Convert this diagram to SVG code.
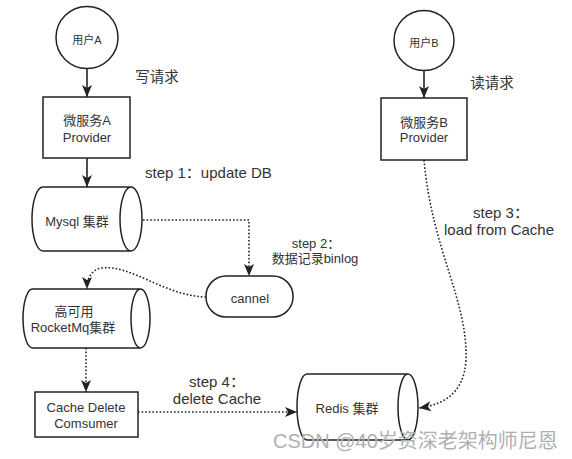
<svg xmlns="http://www.w3.org/2000/svg" width="572" height="459" viewBox="0 0 572 459">
<style>
.s{fill:#fff;stroke:#222;stroke-width:1.5}
.c{fill:none;stroke:#222;stroke-width:1.6}
.d{fill:none;stroke:#222;stroke-width:1.6;stroke-dasharray:1.6 2}
text{font-family:"Liberation Sans","Noto Sans CJK SC",sans-serif;fill:#333;font-size:13px;text-anchor:middle}
.l{font-size:15px}
.r{font-size:14.5px}
.sm{font-size:11px}
.wm{font-size:20px;fill:#b0b0b0;text-anchor:start}
</style>
<defs>
<marker id="a" markerUnits="userSpaceOnUse" markerWidth="12" markerHeight="10" refX="12" refY="5" orient="auto" overflow="visible">
<path d="M0,0 L12,5 L0,10 L3,5 Z" fill="#222"/>
</marker>
</defs>
<rect width="572" height="459" fill="#fff"/>
<g id="connectors">
<path class="c" d="M87 68.5 V97" marker-end="url(#a)"/>
<path class="c" d="M424 70.5 V98" marker-end="url(#a)"/>
<path class="c" d="M87 158 V187" marker-end="url(#a)"/>
<path class="d" d="M143 220 H249 V276" marker-end="url(#a)"/>
<path class="d" d="M206 297 C165 296 130 264 102 268 C92 269 87 278 87 289" marker-end="url(#a)"/>
<path class="d" d="M86 348 V392" marker-end="url(#a)"/>
<path class="d" d="M138 412 H297" marker-end="url(#a)"/>
<path class="d" d="M424 160 C432 250 468 300 466 360 C464 396 440 405 419 408" marker-end="url(#a)"/>
</g>
<g id="userA">
<circle class="s" cx="87" cy="37.5" r="31"/>
<text class="sm" x="87" y="44">用户A</text>
</g>
<g id="userB">
<circle class="s" cx="424" cy="40.5" r="30"/>
<text class="sm" x="424" y="47">用户B</text>
</g>
<g id="serviceA">
<rect class="s" x="43" y="97" width="87" height="61"/>
<text x="87" y="125">微服务A</text>
<text x="87" y="141.5">Provider</text>
</g>
<g id="serviceB">
<rect class="s" x="381" y="98" width="86" height="62"/>
<text x="424" y="126.5">微服务B</text>
<text x="424" y="141.5">Provider</text>
</g>
<g id="mysql">
<path class="s" d="M131 187 H43 A11 32 0 0 0 43 251 H131 A11 32 0 0 0 131 187 Z M131 187 A11 32 0 0 0 131 251"/>
<text x="77" y="225.5">Mysql 集群</text>
</g>
<g id="cannel">
<rect class="s" x="206" y="276" width="87" height="41" rx="20" ry="20"/>
<text x="250" y="302.5">cannel</text>
</g>
<g id="rocketmq">
<path class="s" d="M140.5 289 H32.5 A9.5 29.5 0 0 0 32.5 348 H140.5 A9.5 29.5 0 0 0 140.5 289 Z M140.5 289 A9.5 29.5 0 0 0 140.5 348"/>
<text x="74" y="315.5">高可用</text>
<text x="73" y="332">RocketMq集群</text>
</g>
<g id="consumer">
<rect class="s" x="35" y="392" width="103" height="45"/>
<text x="86" y="411.5">Cache Delete</text>
<text x="86" y="427.5">Comsumer</text>
</g>
<g id="redis">
<path class="s" d="M408 374 H307 A10 33 0 0 0 307 440 H408 A10 33 0 0 0 408 374 Z M408 374 A10 33 0 0 0 408 440"/>
<text x="347" y="412.5">Redis 集群</text>
</g>
<g id="labels">
<text class="r" x="157" y="82">写请求</text>
<text class="r" x="492" y="88">读请求</text>
<text class="l" x="145" y="178" style="text-anchor:start">step 1：update DB</text>
<text x="316" y="247.5">step 2：</text>
<text x="315" y="262.5">数据记录binlog</text>
<text class="l" x="501" y="218">step 3：</text>
<text class="l" x="499" y="235">load from Cache</text>
<text class="l" x="217" y="387">step 4：</text>
<text class="l" x="217" y="404">delete Cache</text>
<text class="wm" x="273" y="448">CSDN @40岁资深老架构师尼恩</text>
</g>
</svg>
